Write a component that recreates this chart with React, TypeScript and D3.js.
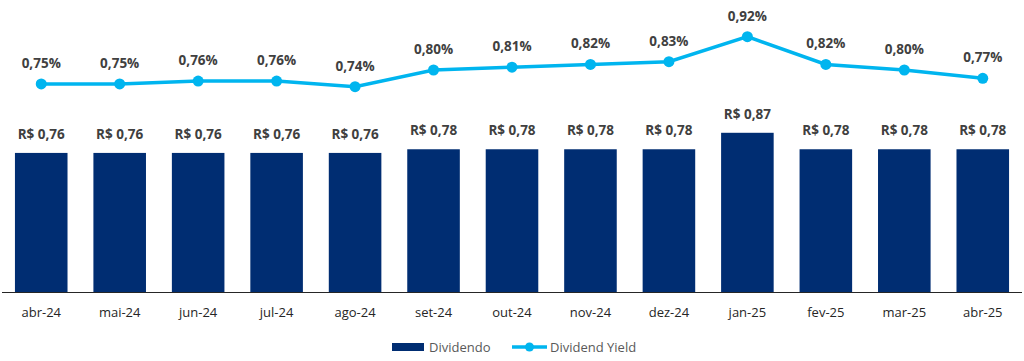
import React, { useEffect, useRef } from 'react';
import * as d3 from 'd3';

const months = ['abr-24', 'mai-24', 'jun-24', 'jul-24', 'ago-24', 'set-24', 'out-24', 'nov-24', 'dez-24', 'jan-25', 'fev-25', 'mar-25', 'abr-25'];
const dividendo = [0.76, 0.76, 0.76, 0.76, 0.76, 0.78, 0.78, 0.78, 0.78, 0.87, 0.78, 0.78, 0.78];
const dividendYield = [0.75, 0.75, 0.76, 0.76, 0.74, 0.80, 0.81, 0.82, 0.83, 0.92, 0.82, 0.80, 0.77];

const BAR = '#002D72';
const LINE = '#00B5EF';
const LABEL = '#404040';
const FONT = "'Open Sans', Arial, sans-serif";

const fmt = (v: number) => v.toFixed(2).replace('.', ',');

const App = () => {
  const svgRef = useRef<SVGSVGElement>(null);

  useEffect(() => {
    const svg = d3.select(svgRef.current);
    svg.selectAll('*').remove();

    const x = d3.scaleBand().domain(months).range([2, 1022]).padding(0);
    const barW = x.bandwidth() * 0.67;
    const cx = (m: string) => (x(m) as number) + x.bandwidth() / 2;

    const yBar = d3.scaleLinear().domain([0, 1]).range([292, 109]);
    const yLine = d3.scaleLinear().domain([0.6, 1.0]).range([125.6, 14.4]);

    // bars
    svg.append('g')
      .selectAll('rect')
      .data(dividendo)
      .join('rect')
      .attr('x', (d, i) => cx(months[i]) - barW / 2)
      .attr('y', d => yBar(d))
      .attr('width', barW)
      .attr('height', d => yBar(0) - yBar(d))
      .attr('fill', BAR);

    // bar labels
    svg.append('g')
      .selectAll('text')
      .data(dividendo)
      .join('text')
      .attr('x', (d, i) => cx(months[i]))
      .attr('y', d => yBar(d) - 14)
      .attr('text-anchor', 'middle')
      .attr('font-family', FONT)
      .attr('font-weight', 'bold')
      .attr('font-size', 13.5)
      .attr('fill', LABEL)
      .text(d => `R$ ${fmt(d)}`);

    // x axis
    svg.append('line')
      .attr('x1', 2).attr('x2', 1022)
      .attr('y1', 292.5).attr('y2', 292.5)
      .attr('stroke', '#262626')
      .attr('stroke-width', 1);

    svg.append('g')
      .selectAll('text')
      .data(months)
      .join('text')
      .attr('x', d => cx(d))
      .attr('y', 317)
      .attr('text-anchor', 'middle')
      .attr('font-family', FONT)
      .attr('font-size', 13)
      .attr('fill', '#262626')
      .text(d => d);

    // yield line
    const line = d3.line<number>()
      .x((d, i) => cx(months[i]))
      .y(d => yLine(d));

    svg.append('path')
      .datum(dividendYield)
      .attr('d', line)
      .attr('fill', 'none')
      .attr('stroke', LINE)
      .attr('stroke-width', 3.5);

    svg.append('g')
      .selectAll('circle')
      .data(dividendYield)
      .join('circle')
      .attr('cx', (d, i) => cx(months[i]))
      .attr('cy', d => yLine(d))
      .attr('r', 5.5)
      .attr('fill', LINE);

    svg.append('g')
      .selectAll('text')
      .data(dividendYield)
      .join('text')
      .attr('x', (d, i) => cx(months[i]))
      .attr('y', d => yLine(d) - 16)
      .attr('text-anchor', 'middle')
      .attr('font-family', FONT)
      .attr('font-weight', 'bold')
      .attr('font-size', 13.5)
      .attr('fill', LABEL)
      .text(d => `${fmt(d)}%`);

    // legend
    const lg = svg.append('g').attr('font-family', FONT).attr('font-size', 13).attr('fill', '#595959');
    lg.append('rect').attr('x', 392).attr('y', 343).attr('width', 32).attr('height', 8).attr('fill', BAR);
    lg.append('text').attr('x', 429).attr('y', 351.5).text('Dividendo');
    lg.append('line').attr('x1', 512).attr('x2', 547).attr('y1', 347).attr('y2', 347)
      .attr('stroke', LINE).attr('stroke-width', 3.5);
    lg.append('circle').attr('cx', 529.5).attr('cy', 347).attr('r', 4.5).attr('fill', LINE);
    lg.append('text').attr('x', 550).attr('y', 351.5).text('Dividend Yield');
  }, []);

  return (
    <svg ref={svgRef} width={1024} height={361} style={{ position: 'absolute', left: 0, top: 0, background: '#fff' }} />
  );
};

export default App;
